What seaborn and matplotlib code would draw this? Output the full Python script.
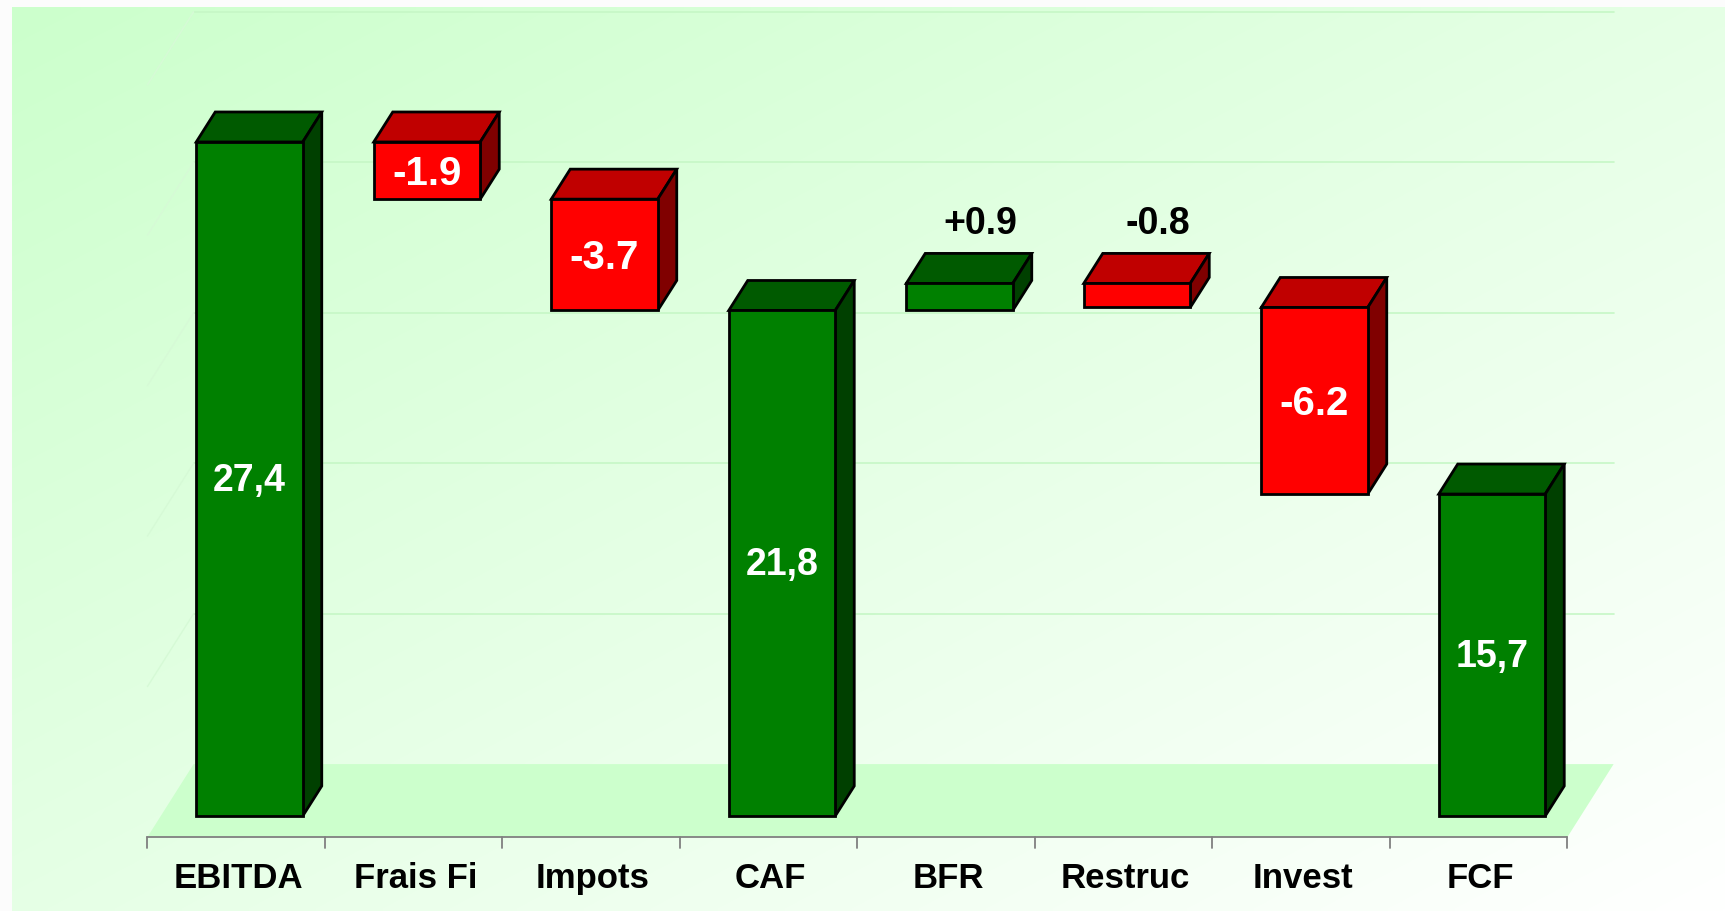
import numpy as np
import matplotlib
matplotlib.use('Agg')
import matplotlib.pyplot as plt
from matplotlib import font_manager
import seaborn as sns

sns.set_style('white')
plt.rcParams['font.family'] = ['Liberation Sans', 'DejaVu Sans']

# data
categories = ['EBITDA', 'Frais Fi', 'Impots', 'CAF', 'BFR', 'Restruc', 'Invest', 'FCF']
values = [27.4, -1.9, -3.7, 21.8, 0.9, -0.8, -6.2, 15.7]
is_total = [True, False, False, True, False, False, False, True]
labels = ['27,4', '-1.9', '-3.7', '21,8', '+0.9', '-0.8', '-6.2', '15,7']

BASE = 5      # value axis min (floor)
TOP = 30      # value axis max (back wall top)

# waterfall spans
bottoms, tops = [], []
running = 0
for v, tot in zip(values, is_total):
    if tot:
        running = v
        bottoms.append(BASE)
        tops.append(v)
    else:
        start, end = running, running + v
        bottoms.append(min(start, end))
        tops.append(max(start, end))
        running = end
heights = [t - b for t, b in zip(tops, bottoms)]

GREEN = ('#008000', '#005a00', '#004000')   # front, top, side
RED = ('#ff0000', '#c00000', '#800000')
shades = [GREEN if (tot or v > 0) else RED for v, tot in zip(values, is_total)]

# narrow face for the red labels if it is there
names = {f.name for f in font_manager.fontManager.ttflist}
if 'Liberation Sans Narrow' in names:
    red_font = dict(family='Liberation Sans Narrow', fontsize=32)
else:
    red_font = dict(family='Liberation Sans', fontsize=29)

# pixel layout of the front plane of the bars
W, H = 1725, 911
X0_PX, CAT_PX = 249.5, 177.5
V0_PX, UNIT_PX = 816, 30.09
DX, DY = 19 / CAT_PX, 30 / UNIT_PX        # one bar depth, in data units
D_FRONT, D_BACK = -0.70, 1.73            # floor front / back in bar depths
BW = 0.6
EDGE = 2.0


def proj(x, v, d):
    return x + d * DX, v + d * DY


def half_cap(size):
    # half the digit height of a label, in value units
    return 0.716 * size * 100 / 72 / 2 / UNIT_PX


fig = plt.figure(figsize=(W / 100, H / 100), dpi=100)
fig.patch.set_facecolor('#fcfcfc')
ax = fig.add_axes([0, 0, 1, 1])

# gradient background
yy, xx = np.mgrid[0:1:200j, 0:1:400j]
t = (xx + yy) / 2
c0 = np.array([0.80, 1.0, 0.80])
c1 = np.array([1.0, 1.0, 1.0])
grad = c0 * (1 - t[..., None]) + c1 * t[..., None]
ax.imshow(grad, extent=(12 / W, 1, 0, 1 - 7 / H), transform=ax.transAxes,
          aspect='auto', zorder=0, interpolation='bilinear')

n = len(categories)
left, right = -0.5, n - 0.5

# gridlines on back and side walls
for g in range(BASE + 5, TOP + 1, 5):
    bx0, by = proj(left, g, D_BACK)
    bx1, _ = proj(right, g, D_BACK)
    ax.plot([bx0, bx1], [by, by], color='#c6f7c6', lw=1.2, zorder=1)
    fx, fy = proj(left, g, D_FRONT)
    ax.plot([fx, bx0], [fy, by], color='#d6fad6', lw=1.0, zorder=1)

# floor
fl = [proj(left, BASE, D_FRONT), proj(right, BASE, D_FRONT),
      proj(right, BASE, D_BACK), proj(left, BASE, D_BACK)]
ax.fill([p[0] for p in fl], [p[1] for p in fl], color='#ccffcc', lw=0, zorder=2)

# front faces
n_before = len(ax.patches)
sns.barplot(x=categories, y=heights, bottom=bottoms, width=BW, errorbar=None,
            color=GREEN[0], saturation=1, edgecolor='black', linewidth=EDGE,
            zorder=4, ax=ax)
for patch, sh in zip(ax.patches[n_before:], shades):
    patch.set_facecolor(sh[0])

# top and side faces
for i, (b, tp, sh) in enumerate(zip(bottoms, tops, shades)):
    x0, x1 = i - BW / 2, i + BW / 2
    top_face = [(x0, tp), (x1, tp), proj(x1, tp, 1), proj(x0, tp, 1)]
    side_face = [(x1, b), (x1, tp), proj(x1, tp, 1), proj(x1, b, 1)]
    ax.fill([p[0] for p in top_face], [p[1] for p in top_face],
            facecolor=sh[1], edgecolor='black', lw=EDGE, zorder=3)
    ax.fill([p[0] for p in side_face], [p[1] for p in side_face],
            facecolor=sh[2], edgecolor='black', lw=EDGE, zorder=3)

# value labels
for i, (b, tp, v, lab, tot) in enumerate(zip(bottoms, tops, values, labels, is_total)):
    if tp - b < 1.5:
        ax.text(i + 0.12, tp + DY + 0.64, lab, ha='center', va='baseline',
                fontsize=27, fontweight='bold', color='black', zorder=10)
    elif tot:
        ax.text(i, (b + tp) / 2 - half_cap(27) + 0.05, lab, ha='center',
                va='baseline', fontsize=27, fontweight='bold', color='white',
                zorder=10)
    else:
        ax.text(i, (b + tp) / 2 - half_cap(red_font['fontsize']), lab,
                ha='center', va='baseline', fontweight='bold', color='white',
                zorder=10, **red_font)

# category axis along the front edge of the floor
ax0, ay = proj(left, BASE, D_FRONT)
ax1, _ = proj(right, BASE, D_FRONT)
ax.plot([ax0, ax1], [ay, ay], color='#808080', lw=1.3, zorder=5)
for k in range(n + 1):
    tx, _ = proj(left + k, BASE, D_FRONT)
    ax.plot([tx, tx], [ay, ay - 11 / UNIT_PX], color='#808080', lw=1.3, zorder=5)
for i, c in enumerate(categories):
    cx, _ = proj(i, BASE, D_FRONT)
    ax.text(cx + 0.01, BASE + (V0_PX - 888) / UNIT_PX, c, ha='center', va='baseline',
            fontsize=25, fontweight='bold', color='black', zorder=10)

ax.set_xlim(-X0_PX / CAT_PX, (W - X0_PX) / CAT_PX)
ax.set_ylim(BASE - (H - V0_PX) / UNIT_PX, BASE + V0_PX / UNIT_PX)
ax.set_axis_off()

fig.savefig('out.png', dpi=100)
